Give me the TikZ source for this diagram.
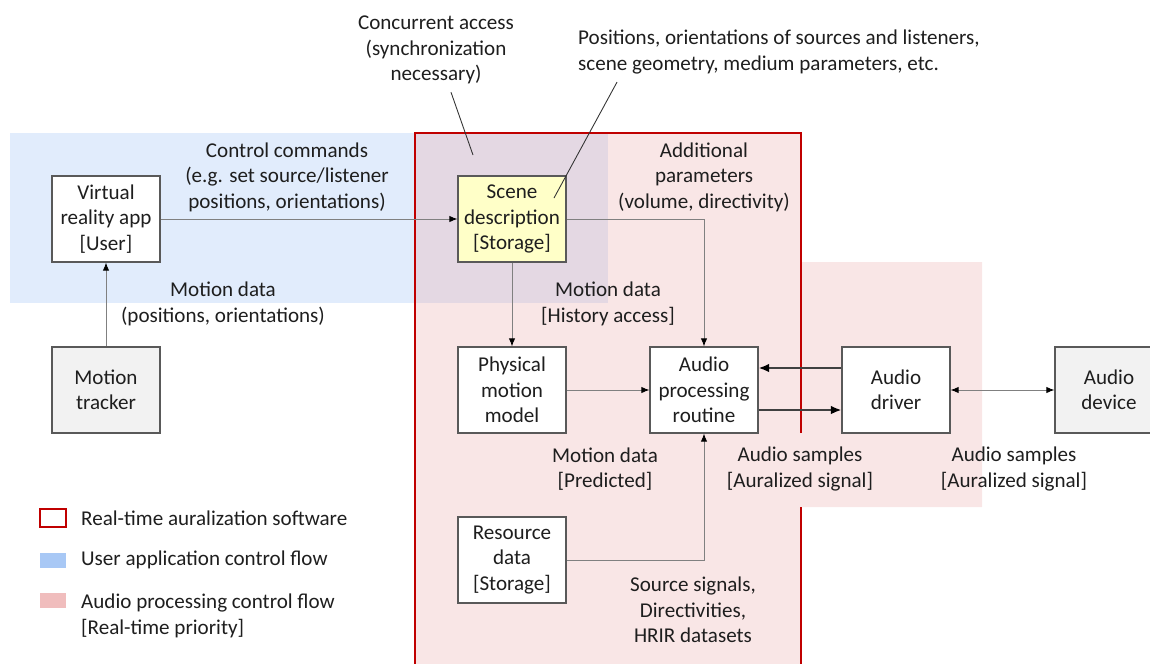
\documentclass[tikz,border=0pt]{standalone}
\usepackage{fontspec}
\setmainfont{Carlito}
\usepackage{tikz}
\usepackage{xcolor}
\usetikzlibrary{shapes,arrows,arrows.meta,positioning,calc}
\definecolor{swRed}{RGB}{192,0,0}
\definecolor{userBlue}{RGB}{168,200,245}
\definecolor{audioPink}{RGB}{236,172,172}
\definecolor{boxGray}{RGB}{89,89,89}
\definecolor{sceneYellow}{RGB}{255,255,200}
\definecolor{devGray}{RGB}{242,242,242}
\definecolor{txtGray}{RGB}{30,30,30}

\begin{document}
\begin{tikzpicture}[x=0.02cm, y=-0.02cm,
    every node/.style={font=\fontsize{12}{14.5}\selectfont, text=txtGray, align=center},
    block/.style={draw=boxGray, line width=0.7pt, fill=white, minimum width=2.16cm, minimum height=1.72cm, inner sep=1pt},
    flow/.style={draw=gray, line width=0.5pt, -{Latex[length=4.5pt,width=3.6pt,color=black]}},
    twoflow/.style={draw=gray, line width=0.5pt, {Latex[length=4.5pt,width=3.6pt,color=black]}-{Latex[length=4.5pt,width=3.6pt,color=black]}},
    bigflow/.style={draw=black!75, line width=1.1pt, -{Latex[length=6pt,width=5pt,color=black]}},
    leader/.style={draw=black!80, line width=0.5pt}]
    \useasboundingbox (0,0) rectangle (1150,663);
    % regions
    \fill[userBlue, opacity=0.35] (10,133) rectangle (608,303);
    \fill[audioPink, opacity=0.3] (415,133) -- (801,133) -- (801,262) -- (982,262) -- (982,507)
        -- (801,507) -- (801,690) -- (415,690) -- cycle;
    \draw[swRed, line width=1.6pt] (801,433) -- (801,133) -- (415,133) -- (415,690);
    \draw[swRed, line width=1.6pt] (801,507) -- (801,690);
    % blocks
    \node[block] (vrapp) at (106,219) {Virtual\\reality app\\{[User]}};
    \node[block, fill=devGray] (tracker) at (106,390) {Motion\\tracker};
    \node[block, fill=sceneYellow] (scene) at (512,219) {Scene\\description\\{[Storage]}};
    \node[block] (physical) at (512,390) {Physical\\motion\\model};
    \node[block] (routine) at (704,390) {Audio\\processing\\routine};
    \node[block] (driver) at (896,390) {Audio\\driver};
    \node[block, fill=devGray] (device) at (1109,390) {Audio\\device};
    \node[block] (resource) at (512,560) {Resource\\data\\{[Storage]}};
    % labels
    \node (ctrlcmd) at (287,177) {Control commands\\(e.g. set source/listener\\positions, orientations)};
    \node (motionusr) at (223,304) {Motion data\\(positions, orientations)};
    \node (concur) at (436,50) {Concurrent access\\(synchronization\\necessary)};
    \node[align=left] (posit) at (779,52) {Positions, orientations of sources and listeners,\\scene geometry, medium parameters, etc.};
    \node (addparam) at (704,177) {Additional\\parameters\\(volume, directivity)};
    \node (history) at (608,304) {Motion data\\{[History access]}};
    \node (predicted) at (605,469) {Motion data\\{[Predicted]}};
    \node (samplesA) at (800,469) {Audio samples\\{[Auralized signal]}};
    \node (samplesB) at (1014,469) {Audio samples\\{[Auralized signal]}};
    \node (srcsig) at (693,610) {Source signals,\\Directivities,\\HRIR datasets};
    % leaders
    \coordinate (concurtip) at (473,155);
    \coordinate (positip) at (554,198);
    \draw[leader] ($(concur.south)+(15,2)$) -- (concurtip);
    \draw[leader] ($(posit.south west)+(45,2)$) -- (positip);
    % connectors
    \draw[flow] (tracker.north) -- (vrapp.south);
    \draw[flow] (vrapp.east) -- (scene.west);
    \draw[flow] (scene.south) -- (physical.north);
    \draw[flow] (scene.east) -| (routine.north);
    \draw[flow] (physical.east) -- (routine.west);
    \draw[flow] (resource.east) -| (routine.south);
    \draw[bigflow] ($(driver.west)+(0,-22)$) -- ($(routine.east)+(0,-22)$);
    \draw[bigflow] ($(routine.east)+(0,20)$) -- ($(driver.west)+(0,20)$);
    \draw[twoflow] (driver.east) -- (device.west);
    % legend
    \node[draw=swRed, line width=1.2pt, minimum width=0.52cm, minimum height=0.36cm, inner sep=0pt] (legsw) at (53,518) {};
    \node[fill=userBlue, minimum width=0.52cm, minimum height=0.3cm, inner sep=0pt] (legusr) at (53,560) {};
    \node[fill=audioPink, opacity=0.8, minimum width=0.52cm, minimum height=0.3cm, inner sep=0pt] (legaud) at (53,600) {};
    \node[anchor=west, align=left] (legswtxt) at (75,518) {Real-time auralization software};
    \node[anchor=west, align=left] (legusrtxt) at (75,560) {User application control flow};
    \node[anchor=north west, align=left] (legaudtxt) at (75,588) {Audio processing control flow\\{[Real-time priority]}};
\end{tikzpicture}
\end{document}
